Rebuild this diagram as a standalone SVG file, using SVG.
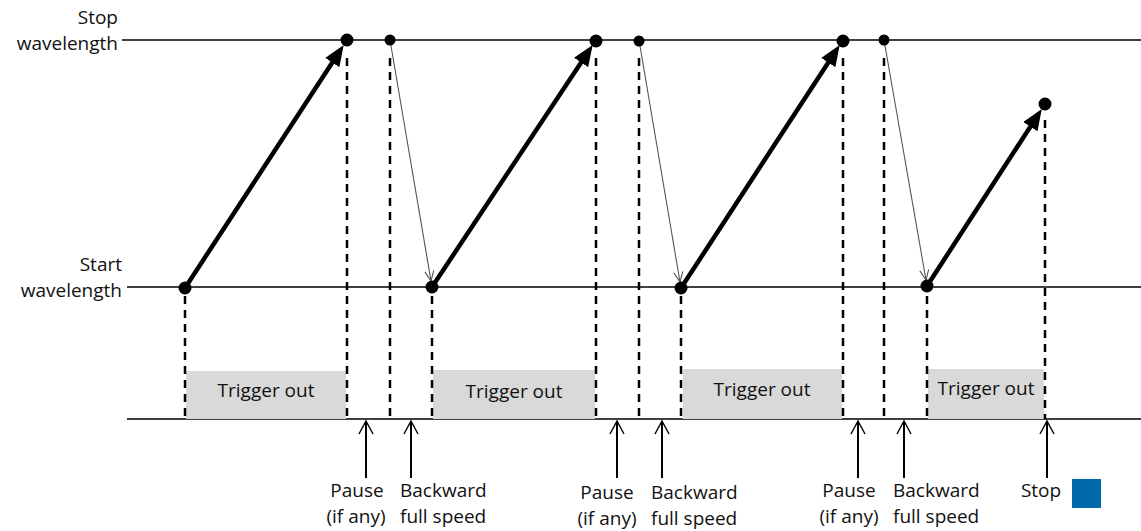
<svg xmlns="http://www.w3.org/2000/svg" width="1141" height="531" viewBox="0 0 1141 531">
<style>
text{font-family:"Open Sans","Noto Sans","DejaVu Sans",sans-serif;font-size:19px;fill:#111}
.axis{stroke:#000;stroke-width:1.3;fill:none}
.dash{stroke:#000;stroke-width:2.5;stroke-dasharray:8 6;fill:none}
.box{fill:#d9d9d9}
.thick{stroke:#000;stroke-width:4.5;fill:none;marker-end:url(#head)}
.thin{stroke:#555;stroke-width:1.1;fill:none;marker-end:url(#vhead)}
.up{stroke:#000;stroke-width:2;fill:none}
.uph{stroke:#000;stroke-width:1.4;fill:none}
.dot{fill:#000}
.mid{text-anchor:middle}
.end{text-anchor:end}
</style>
<defs>
<marker id="head" markerUnits="userSpaceOnUse" viewBox="0 0 21 17" markerWidth="21" markerHeight="17" refX="10" refY="8.5" orient="auto"><path d="M0,0 L21,8.5 L0,17 z" fill="#000"/></marker>
<marker id="vhead" markerUnits="userSpaceOnUse" viewBox="-12 -6 14 12" markerWidth="14" markerHeight="12" refX="0" refY="0" orient="auto"><path d="M-10,-4.5 L0,0 L-10,4.5" stroke="#555" stroke-width="1.1" fill="none"/></marker>
</defs>
<g id="axes">
<line class="axis" x1="122" y1="40" x2="1141" y2="40"/>
<line class="axis" x1="127" y1="287" x2="1141" y2="287"/>
<line class="axis" x1="127" y1="419" x2="1141" y2="419"/>
</g>
<g id="labels-left">
<text class="end" x="118" y="24">Stop</text>
<text class="end" x="118" y="50">wavelength</text>
<text class="end" x="122" y="271">Start</text>
<text class="end" x="122" y="297">wavelength</text>
</g>
<g id="trigger1"><rect class="box" x="186" y="371" width="160" height="48"/><text class="mid" x="266" y="397">Trigger out</text></g>
<g id="trigger2"><rect class="box" x="433" y="370" width="162" height="49"/><text class="mid" x="514" y="398">Trigger out</text></g>
<g id="trigger3"><rect class="box" x="683" y="369" width="159" height="50"/><text class="mid" x="762" y="396">Trigger out</text></g>
<g id="trigger4"><rect class="box" x="928" y="369" width="116" height="50"/><text class="mid" x="986" y="395">Trigger out</text></g>
<g id="guides">
<line class="dash" x1="185" y1="296" x2="185" y2="419"/>
<line class="dash" x1="347" y1="58" x2="347" y2="419"/>
<line class="dash" x1="390" y1="58" x2="390" y2="419"/>
<line class="dash" x1="432" y1="296" x2="432" y2="419"/>
<line class="dash" x1="596" y1="58" x2="596" y2="419"/>
<line class="dash" x1="639" y1="58" x2="639" y2="419"/>
<line class="dash" x1="681" y1="296" x2="681" y2="419"/>
<line class="dash" x1="843" y1="58" x2="843" y2="419"/>
<line class="dash" x1="884" y1="58" x2="884" y2="419"/>
<line class="dash" x1="927" y1="296" x2="927" y2="419"/>
<line class="dash" x1="1045" y1="120" x2="1045" y2="419"/>
</g>
<g id="connectors">
<line class="thick" x1="185" y1="288" x2="337.7" y2="54.2"/>
<line class="thick" x1="432" y1="287" x2="586.6" y2="54.2"/>
<line class="thick" x1="681" y1="288" x2="833.7" y2="54.2"/>
<line class="thick" x1="927" y1="286" x2="1035.8" y2="118.3"/>
<line class="thin" x1="390" y1="40" x2="431" y2="281"/>
<line class="thin" x1="639" y1="40" x2="680" y2="282"/>
<line class="thin" x1="884" y1="40" x2="926" y2="280"/>
</g>
<g id="dots">
<circle class="dot" cx="185" cy="288" r="6.5"/>
<circle class="dot" cx="347" cy="40" r="6.5"/>
<circle class="dot" cx="390" cy="40" r="5.5"/>
<circle class="dot" cx="432" cy="287" r="6.5"/>
<circle class="dot" cx="596" cy="41" r="6.5"/>
<circle class="dot" cx="639" cy="41" r="5.5"/>
<circle class="dot" cx="681" cy="288" r="6.5"/>
<circle class="dot" cx="843" cy="41" r="6.5"/>
<circle class="dot" cx="884" cy="40" r="5.5"/>
<circle class="dot" cx="927" cy="286" r="6.5"/>
<circle class="dot" cx="1045" cy="104" r="6.5"/>
</g>
<g id="markers-bottom">
<path class="up" d="M366,478 V422"/><path class="uph" d="M359,434 L366,421 L373,434"/>
<path class="up" d="M411,478 V422"/><path class="uph" d="M404,434 L411,421 L418,434"/>
<path class="up" d="M617,478 V422"/><path class="uph" d="M610,434 L617,421 L624,434"/>
<path class="up" d="M662,478 V422"/><path class="uph" d="M655,434 L662,421 L669,434"/>
<path class="up" d="M858,478 V422"/><path class="uph" d="M851,434 L858,421 L865,434"/>
<path class="up" d="M904,478 V422"/><path class="uph" d="M897,434 L904,421 L911,434"/>
<path class="up" d="M1047,478 V422"/><path class="uph" d="M1040,434 L1047,421 L1054,434"/>
</g>
<g id="labels-bottom">
<text class="mid" x="357" y="497">Pause</text>
<text class="mid" x="356" y="523">(if any)</text>
<text x="400" y="497">Backward</text>
<text x="400" y="523">full speed</text>
<text class="mid" x="607" y="499">Pause</text>
<text class="mid" x="607" y="525">(if any)</text>
<text x="651" y="499">Backward</text>
<text x="651" y="525">full speed</text>
<text class="mid" x="849" y="497">Pause</text>
<text class="mid" x="849" y="523">(if any)</text>
<text x="893" y="497">Backward</text>
<text x="893" y="523">full speed</text>
<text class="mid" x="1041" y="497">Stop</text>
</g>
<rect id="legend" x="1072" y="479" width="29" height="29" fill="#0069aa"/>
</svg>
